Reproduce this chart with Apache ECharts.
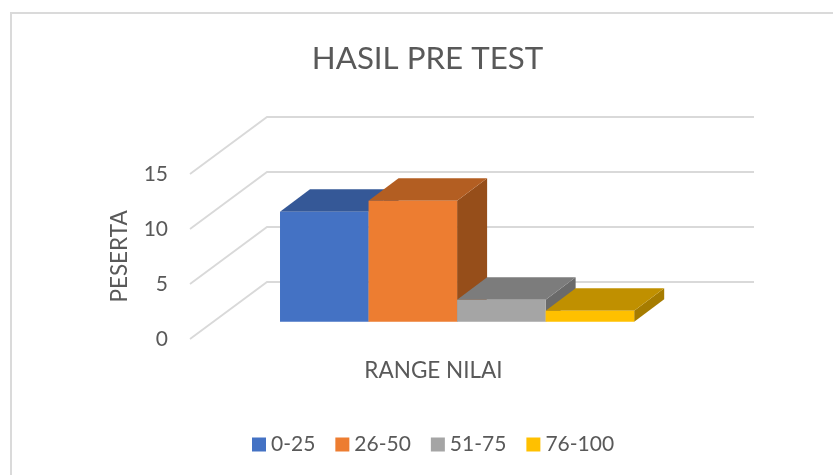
<!DOCTYPE html>
<html>
<head>
<meta charset="utf-8">
<style>
  html, body { margin: 0; padding: 0; background: #fff; }
  #chart { width: 833px; height: 475px; }
</style>
<script src="https://cdn.jsdelivr.net/npm/echarts@6/dist/echarts.min.js"></script>
</head>
<body>
<div id="chart"></div>
<script>
const categories = ['RANGE NILAI'];
const ranges = ['0-25', '26-50', '51-75', '76-100'];
const peserta = [10, 11, 2, 1];
const yTicks = [0, 5, 10, 15];

const frontColors = ['#4472C4', '#ED7D31', '#A5A5A5', '#FFC000'];
const topColors = ['#355897', '#B35E22', '#7C7C7C', '#C09000'];
const sideColors = ['#2B4A80', '#964E1A', '#6A6A6A', '#A67C00'];

// fake 3d: how far the back wall sits from the front of the floor
const wallDx = 77, wallDy = 57;
// bars stand a bit inside the floor
const barDx = 23.6, barDy = 17.3;
// depth of a bar
const depthDx = 30, depthDy = 22.4;

function renderBar(idx) {
  return function (params, api) {
    const center = api.coord([api.value(0), 0]);
    const top = api.coord([api.value(0), api.value(1)]);
    const w = api.size([1, 0])[0] / 5.5;
    const x0 = center[0] + barDx + (idx - 2) * w;
    const x1 = x0 + w;
    const y0 = center[1] - barDy;
    const y1 = top[1] - barDy;
    return {
      type: 'group',
      children: [
        {
          type: 'polygon',
          shape: { points: [[x1, y0], [x1 + depthDx, y0 - depthDy], [x1 + depthDx, y1 - depthDy], [x1, y1]] },
          style: { fill: sideColors[idx] }
        },
        {
          type: 'polygon',
          shape: { points: [[x0, y1], [x1, y1], [x1 + depthDx, y1 - depthDy], [x0 + depthDx, y1 - depthDy]] },
          style: { fill: topColors[idx] }
        },
        {
          type: 'rect',
          shape: { x: x0, y: y1, width: w, height: y0 - y1 },
          style: { fill: frontColors[idx] }
        }
      ]
    };
  };
}

function renderWallLine(params, api) {
  const p = api.coord([0, api.value(0)]);
  const w = api.size([1, 0])[0];
  const left = p[0] - w / 2;
  return {
    type: 'polyline',
    shape: { points: [[left, p[1]], [left + wallDx, p[1] - wallDy], [left + wallDx + w, p[1] - wallDy]] },
    style: { fill: null, stroke: '#D9D9D9', lineWidth: 1.8 }
  };
}

const chart = echarts.init(document.getElementById('chart'));

const series = [{
  type: 'custom',
  name: 'wall',
  silent: true,
  z: 1,
  data: yTicks.map(t => [t]),
  encode: { y: 0 },
  renderItem: renderWallLine
}];
ranges.forEach((r, i) => {
  series.push({
    type: 'custom',
    name: r,
    z: 2 + i,
    itemStyle: { color: frontColors[i] },
    data: [[0, peserta[i]]],
    encode: { x: 0, y: 1 },
    renderItem: renderBar(i)
  });
});

chart.setOption({
  animation: false,
  backgroundColor: '#fff',
  textStyle: { fontFamily: 'Lato' },
  title: {
    text: 'HASIL PRE TEST',
    left: 422.5,
    top: 38,
    textAlign: 'center',
    textStyle: { color: '#595959', fontSize: 31.3, fontWeight: 'normal', fontFamily: 'Lato' }
  },
  legend: {
    data: ranges,
    left: 247,
    top: 429,
    icon: 'rect',
    itemWidth: 14,
    itemHeight: 14,
    itemGap: 20,
    textStyle: { color: '#595959', fontSize: 21, fontFamily: 'Lato' }
  },
  grid: { left: 190, top: 174, width: 487, height: 165 },
  xAxis: {
    type: 'category',
    data: categories,
    name: 'RANGE NILAI',
    nameLocation: 'middle',
    nameGap: 20,
    nameTextStyle: { color: '#595959', fontSize: 22.5 },
    axisLine: { show: false },
    axisTick: { show: false },
    axisLabel: { show: false }
  },
  yAxis: {
    type: 'value',
    min: 0,
    max: 15,
    interval: 5,
    name: 'PESERTA',
    nameLocation: 'middle',
    nameGap: 59,
    nameTextStyle: { color: '#595959', fontSize: 22.5 },
    axisLine: { show: false },
    axisTick: { show: false },
    splitLine: { show: false },
    axisLabel: { color: '#595959', fontSize: 21, margin: 22, padding: [9, 0, 0, 0] }
  },
  graphic: [{
    type: 'rect',
    shape: { x: 11, y: 13, width: 1000, height: 1000 },
    style: { fill: null, stroke: '#DADADA', lineWidth: 2 },
    silent: true
  }],
  series: series
});
</script>
</body>
</html>
